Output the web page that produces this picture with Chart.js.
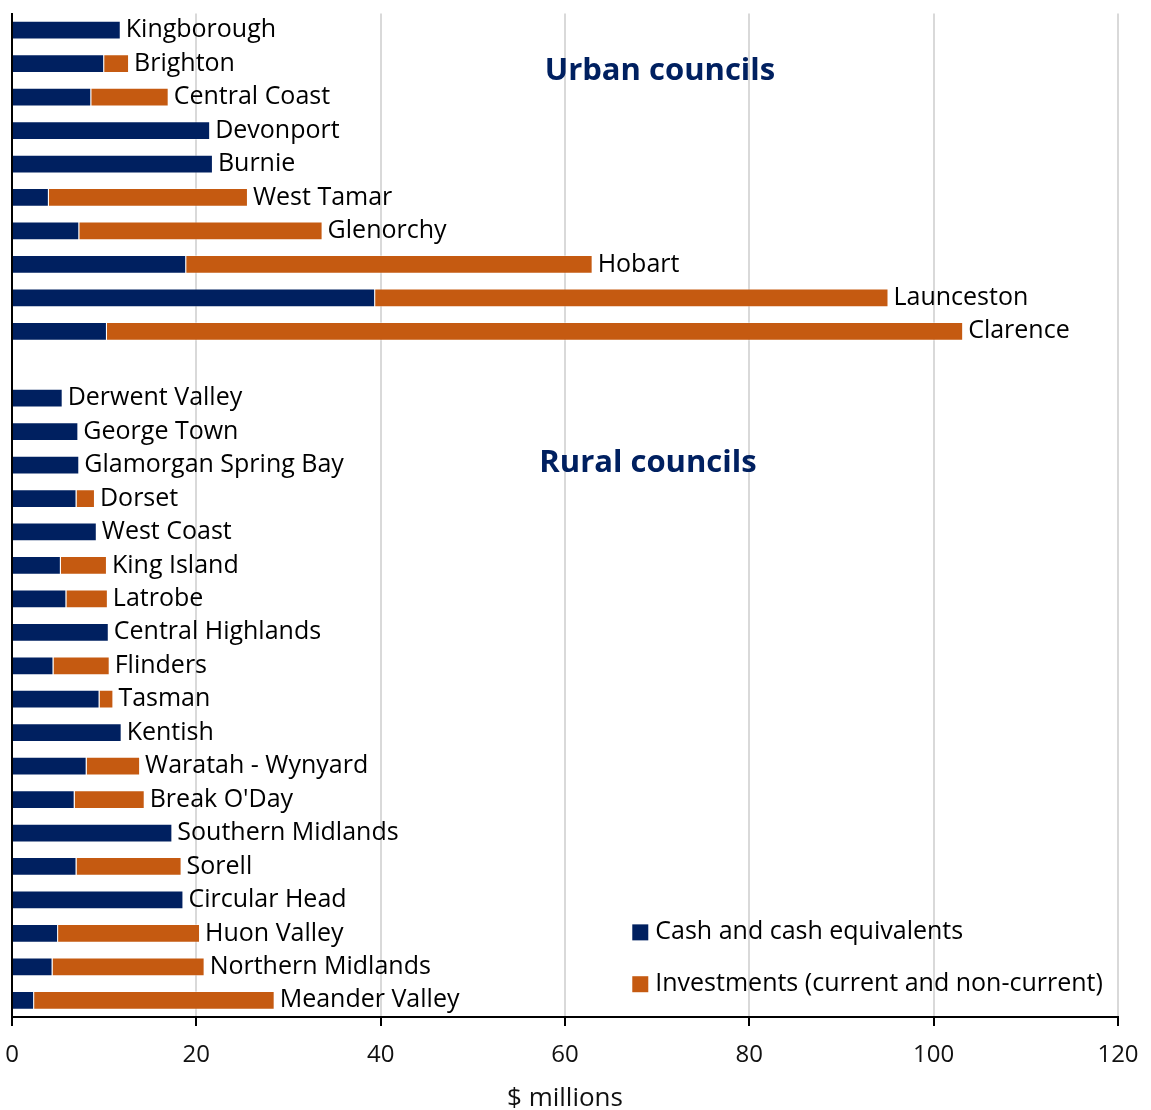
<!DOCTYPE html>
<html>
<head>
<meta charset="utf-8">
<script src="https://cdn.jsdelivr.net/npm/chart.js@4.4.1/dist/chart.umd.min.js"></script>
<style>
  body { margin: 0; background: #fff; }
  #wrap { width: 1151px; height: 1110px; }
</style>
</head>
<body>
<div id="wrap"><canvas id="grafico"></canvas></div>
<script>
// councils, top to bottom; the empty entry separates urban from rural
const conselhos = [
  'Kingborough', 'Brighton', 'Central Coast', 'Devonport', 'Burnie',
  'West Tamar', 'Glenorchy', 'Hobart', 'Launceston', 'Clarence',
  '',
  'Derwent Valley', 'George Town', 'Glamorgan Spring Bay', 'Dorset', 'West Coast',
  'King Island', 'Latrobe', 'Central Highlands', 'Flinders', 'Tasman',
  'Kentish', 'Waratah - Wynyard', "Break O'Day", 'Southern Midlands', 'Sorell',
  'Circular Head', 'Huon Valley', 'Northern Midlands', 'Meander Valley'
];

// $ millions
const caixa = [
  11.8, 10.0, 8.6, 21.5, 21.8, 4.0, 7.3, 18.9, 39.4, 10.3,
  null,
  5.5, 7.2, 7.3, 7.0, 9.2, 5.3, 5.9, 10.5, 4.5, 9.5,
  11.9, 8.1, 6.8, 17.4, 7.0, 18.6, 5.0, 4.4, 2.4
];

const investimentos = [
  0, 2.7, 8.4, 0, 0, 21.6, 26.4, 44.1, 55.7, 92.9,
  null,
  0, 0, 0, 2.0, 0, 5.0, 4.5, 0, 6.1, 1.5,
  0, 5.8, 7.6, 0, 11.4, 0, 15.4, 16.5, 26.1
];

const ticksX = [0, 20, 40, 60, 80, 100, 120];

const corCaixa = '#002060';
const corInvest = '#C55A11';
const fonte = '"Open Sans", Lato, sans-serif';

// names at the end of each bar, group titles and the legend box
const textosPlugin = {
  id: 'textos',
  afterDatasetsDraw(chart) {
    const ctx = chart.ctx;
    const x = chart.scales.x;
    const y = chart.scales.y;
    ctx.save();
    ctx.textBaseline = 'middle';
    ctx.textAlign = 'left';
    ctx.font = '25px ' + fonte;
    ctx.fillStyle = '#000';
    conselhos.forEach((nome, i) => {
      if (!nome) return;
      const total = (caixa[i] || 0) + (investimentos[i] || 0);
      ctx.fillText(nome, x.getPixelForValue(total) + 5, y.getPixelForValue(i));
    });

    ctx.font = 'bold 31px ' + fonte;
    ctx.fillStyle = corCaixa;
    ctx.textAlign = 'center';
    ctx.fillText('Urban councils', x.getPixelForValue(70.3), y.getPixelForValue(1.22));
    ctx.fillText('Rural councils', x.getPixelForValue(69.0), y.getPixelForValue(12.95));

    // legenda
    ctx.textAlign = 'left';
    ctx.font = '25px ' + fonte;
    const itens = [
      ['Cash and cash equivalents', corCaixa, 26.97],
      ['Investments (current and non-current)', corInvest, 28.52]
    ];
    itens.forEach(([txt, cor, pos]) => {
      const lx = x.getPixelForValue(67.3);
      const ly = y.getPixelForValue(pos);
      ctx.fillStyle = cor;
      ctx.fillRect(lx, ly - 8, 16, 16);
      ctx.fillStyle = '#000';
      ctx.fillText(txt, lx + 23, ly);
    });
    ctx.restore();
  }
};

const ctx = document.getElementById('grafico').getContext('2d');
new Chart(ctx, {
  type: 'bar',
  data: {
    labels: conselhos,
    datasets: [
      {
        label: 'Cash and cash equivalents',
        data: caixa,
        backgroundColor: corCaixa,
        borderColor: 'rgba(255,255,255,0.35)',
        borderWidth: 1,
        barPercentage: 0.56,
        categoryPercentage: 1
      },
      {
        label: 'Investments (current and non-current)',
        data: investimentos,
        backgroundColor: corInvest,
        borderColor: 'rgba(255,255,255,0.35)',
        borderWidth: 1,
        barPercentage: 0.56,
        categoryPercentage: 1
      }
    ]
  },
  options: {
    indexAxis: 'y',
    responsive: true,
    maintainAspectRatio: false,
    animation: false,
    layout: { padding: { left: 12, right: 33, top: 13.5, bottom: -4 } },
    plugins: {
      legend: { display: false },
      tooltip: { enabled: false }
    },
    scales: {
      x: {
        stacked: true,
        min: 0,
        max: 120,
        afterBuildTicks: (axis) => { axis.ticks = ticksX.map(v => ({ value: v })); },
        // the end labels may hang past the plot, so no side padding for them
        afterFit: (axis) => { axis.paddingLeft = 0; axis.paddingRight = 0; },
        grid: {
          color: '#d9d9d9',
          lineWidth: 2,
          drawTicks: true,
          tickLength: 9,
          tickColor: '#000',
          tickWidth: 2
        },
        border: { color: '#000', width: 2 },
        ticks: {
          color: '#111',
          font: { size: 24, family: fonte },
          padding: 15
        },
        title: {
          display: true,
          text: '$ millions',
          color: '#111',
          font: { size: 26, family: fonte },
          padding: { top: -2, bottom: 0 }
        }
      },
      y: {
        stacked: true,
        ticks: { display: false },
        grid: { display: false, drawTicks: false },
        border: { color: '#000', width: 2 }
      }
    }
  },
  plugins: [textosPlugin]
});
</script>
</body>
</html>
